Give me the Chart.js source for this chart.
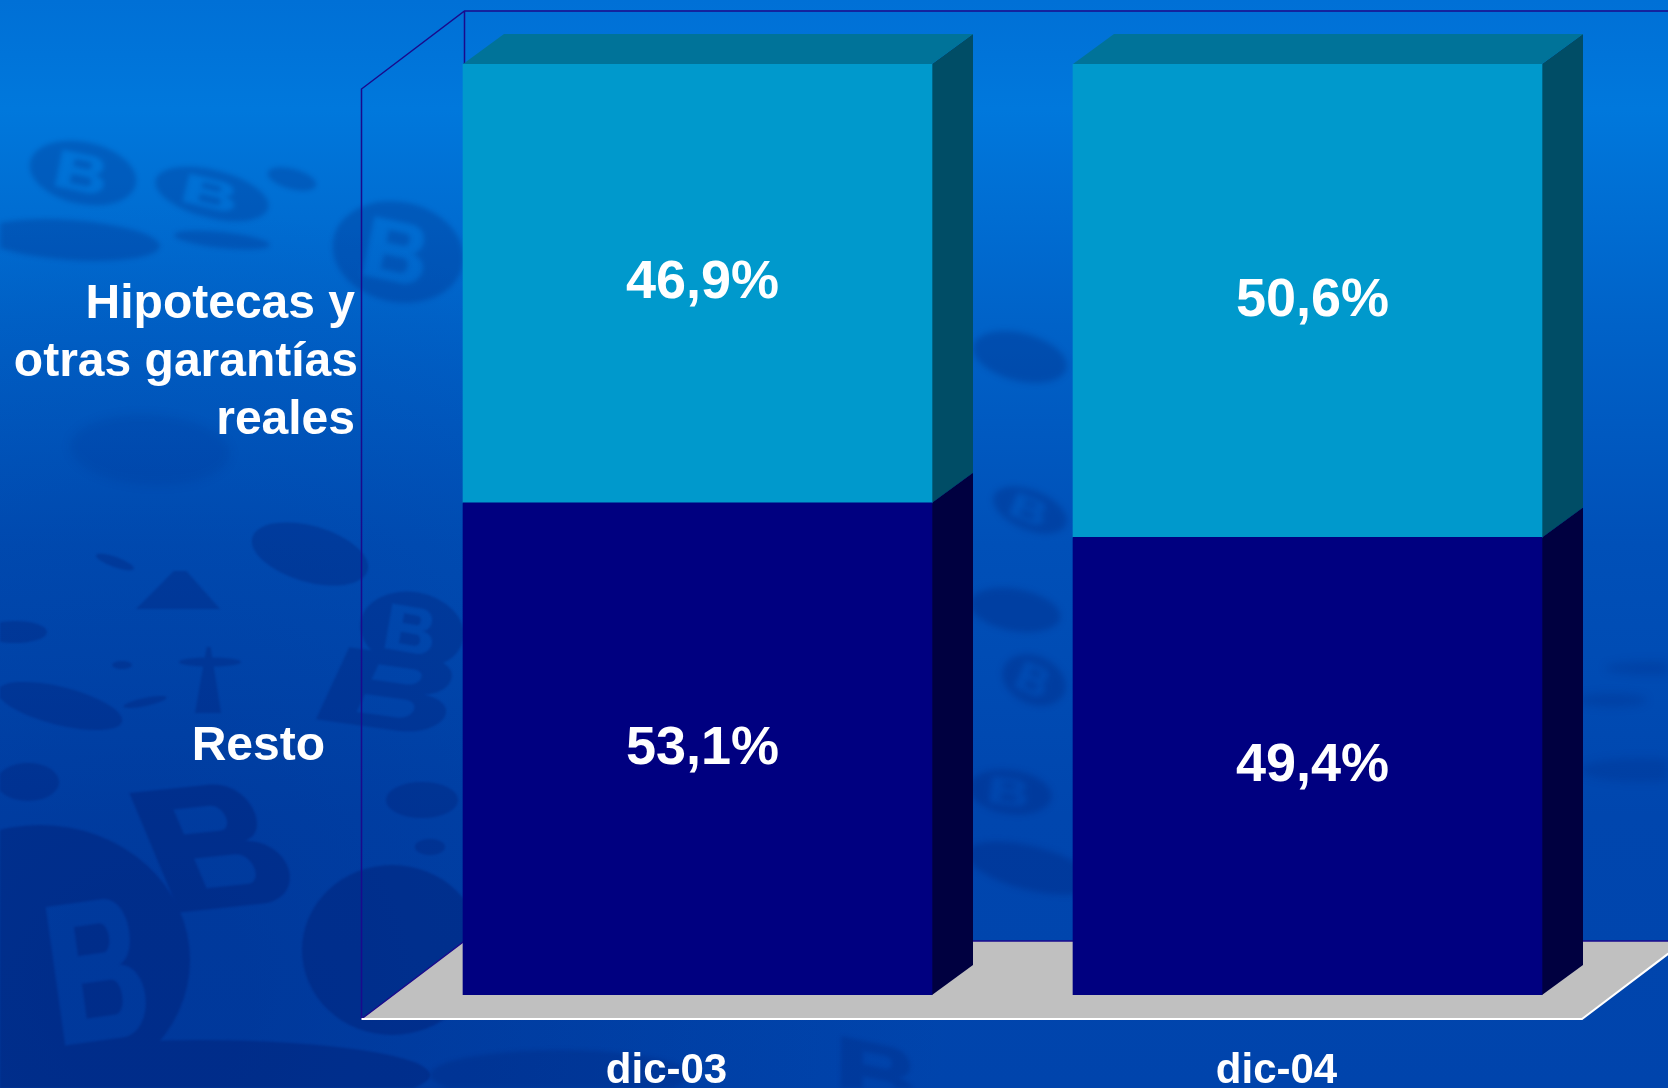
<!DOCTYPE html>
<html lang="es">
<head>
<meta charset="utf-8">
<title>Hipotecas y otras garantías reales</title>
<style>
  html, body { margin: 0; padding: 0; background: #0050b8; }
  canvas { display: block; }
</style>
<script src="https://cdn.jsdelivr.net/npm/chart.js@4"></script>
</head>
<body>
<canvas id="chart" width="1668" height="1088"></canvas>
<script>
// Chart values
const categories = ['dic-03', 'dic-04'];
const restoValues = [53.1, 49.4];
const hipotecasValues = [46.9, 50.6];
const restoLabel = ['Resto'];
const hipotecasLabel = ['Hipotecas y', 'otras garantías', 'reales'];

// Face colours of each stacked block: front, side, top
const restoFaces = ['#000080', '#000040', '#000060'];
const hipotecasFaces = ['#0099cc', '#004d66', '#007399'];

const FONT = '"Liberation Sans", Arial, sans-serif';
const BAR_DEPTH = { x: 41, y: 30 };
const WALL_DEPTH = { x: 103, y: 78 };

// Soft corporate monogram pattern behind the plot
function bGlyph(ctx, w, h) {
  // Outer letter contour, centred on the origin
  const x0 = -w / 2, y0 = -h / 2;
  ctx.moveTo(x0, y0);
  ctx.lineTo(x0 + w * 0.62, y0);
  ctx.bezierCurveTo(x0 + w * 0.95, y0, x0 + w * 0.95, y0 + h * 0.44, x0 + w * 0.72, y0 + h * 0.48);
  ctx.bezierCurveTo(x0 + w * 1.08, y0 + h * 0.52, x0 + w * 1.02, y0 + h, x0 + w * 0.64, y0 + h);
  ctx.lineTo(x0, y0 + h);
  ctx.closePath();
  // Counters
  ctx.moveTo(x0 + w * 0.28, y0 + h * 0.17);
  ctx.lineTo(x0 + w * 0.56, y0 + h * 0.17);
  ctx.bezierCurveTo(x0 + w * 0.68, y0 + h * 0.17, x0 + w * 0.68, y0 + h * 0.38, x0 + w * 0.56, y0 + h * 0.38);
  ctx.lineTo(x0 + w * 0.28, y0 + h * 0.38);
  ctx.closePath();
  ctx.moveTo(x0 + w * 0.28, y0 + h * 0.58);
  ctx.lineTo(x0 + w * 0.6, y0 + h * 0.58);
  ctx.bezierCurveTo(x0 + w * 0.74, y0 + h * 0.58, x0 + w * 0.74, y0 + h * 0.83, x0 + w * 0.6, y0 + h * 0.83);
  ctx.lineTo(x0 + w * 0.28, y0 + h * 0.83);
  ctx.closePath();
}

function shape(ctx, [kind, cx, cy, w, h, deg, skew]) {
  ctx.save();
  ctx.translate(cx, cy);
  ctx.rotate(deg * Math.PI / 180);
  if (skew) ctx.transform(1, 0, skew, 1, 0, 0);
  ctx.beginPath();
  if (kind === 'ellipse' || kind === 'coin' || kind === 'ground') {
    ctx.ellipse(0, 0, w / 2, h / 2, 0, 0, Math.PI * 2);
    ctx.closePath();
    if (kind === 'coin') {
      ctx.save();
      ctx.scale(0.46, 0.6);
      bGlyph(ctx, w, h);
      ctx.restore();
    } else if (kind === 'ground') {
      // Large pale letter cut out of the dark ground
      ctx.save();
      ctx.translate(60, 10);
      ctx.rotate(-8 * Math.PI / 180);
      bGlyph(ctx, 90, 140);
      ctx.restore();
    }
  } else if (kind === 'b') {
    bGlyph(ctx, w, h);
  } else if (kind === 'tri') {
    ctx.moveTo(-w / 2, h / 2);
    ctx.lineTo(-w * 0.05, -h / 2);
    ctx.lineTo(w * 0.1, -h / 2);
    ctx.lineTo(w / 2, h / 2);
    ctx.closePath();
  }
  ctx.fill('evenodd');
  ctx.restore();
}

// Paints a set of shapes as one flat silhouette, so overlaps keep a single tone
function layer(ctx, w, h, alpha, blur, shapes) {
  const off = document.createElement('canvas');
  off.width = w;
  off.height = h;
  const c = off.getContext('2d');
  c.fillStyle = 'rgb(0,28,112)';
  shapes.forEach(s => shape(c, s));
  ctx.save();
  ctx.globalAlpha = alpha;
  ctx.filter = 'blur(' + blur + 'px)';
  ctx.drawImage(off, 0, 0);
  ctx.restore();
}

const backdrop = {
  id: 'backdrop',
  beforeDraw(chart) {
    const { ctx, width, height } = chart;
    const grad = ctx.createLinearGradient(0, 0, 0, height);
    grad.addColorStop(0, '#0070d6');
    grad.addColorStop(0.1, '#0078dc');
    grad.addColorStop(0.3, '#0062c8');
    grad.addColorStop(0.5, '#0050b8');
    grad.addColorStop(0.75, '#0046ae');
    grad.addColorStop(1, '#0044ac');
    ctx.save();
    ctx.fillStyle = grad;
    ctx.fillRect(0, 0, width, height);

    // Gentle darkening towards the lower left corner
    const corner = ctx.createRadialGradient(150, 1000, 100, 150, 1000, 800);
    corner.addColorStop(0, 'rgba(0,32,120,0.32)');
    corner.addColorStop(1, 'rgba(0,32,120,0)');
    ctx.fillStyle = corner;
    ctx.fillRect(0, 0, width, height);

    // Upper left group
    layer(ctx, width, height, 0.24, 2.5, [
      ['coin', 83, 173, 108, 62, 12],
      ['coin', 212, 194, 116, 48, 14],
      ['ellipse', 292, 179, 50, 20, 15],
      ['ellipse', 222, 240, 96, 16, 6],
      ['ellipse', 70, 240, 180, 40, 4],
      ['coin', 398, 252, 132, 100, 12]
    ]);
    layer(ctx, width, height, 0.1, 5, [['ellipse', 150, 450, 160, 70, 3]]);

    // Middle left group
    layer(ctx, width, height, 0.3, 1.2, [
      ['ellipse', 310, 554, 120, 56, 16],
      ['tri', 178, 590, 84, 38, 0],
      ['ellipse', 115, 562, 40, 10, 20],
      ['ellipse', 15, 632, 64, 22, 0],
      ['ellipse', 60, 706, 128, 38, 14],
      ['ellipse', 28, 782, 62, 38, 0],
      ['ellipse', 145, 702, 44, 8, -12],
      ['ellipse', 122, 665, 20, 8, 0],
      ['tri', 208, 680, 26, 66, 0],
      ['ellipse', 210, 662, 62, 9, 0],
      ['coin', 412, 630, 104, 76, 10],
      ['b', 395, 692, 126, 76, 8, -0.3],
      ['ellipse', 422, 800, 72, 36, 0],
      ['ellipse', 430, 847, 30, 16, 0]
    ]);

    // Lower left group
    layer(ctx, width, height, 0.38, 1, [
      ['b', 218, 846, 128, 124, -6, 0.3],
      ['ground', 40, 960, 300, 270, 0],
      ['ellipse', 392, 950, 180, 170, 0],
      ['ellipse', 200, 1075, 460, 70, 0]
    ]);
    layer(ctx, width, height, 0.22, 2, [
      ['ellipse', 560, 1075, 260, 50, 0],
      ['b', 880, 1075, 80, 60, 12, 0.2]
    ]);

    // Gap between the two columns
    layer(ctx, width, height, 0.27, 3, [
      ['ellipse', 1020, 357, 96, 48, 14],
      ['coin', 1030, 510, 78, 40, 22],
      ['ellipse', 1015, 610, 92, 42, 10],
      ['coin', 1034, 680, 66, 48, 24],
      ['coin', 1010, 792, 84, 44, 8],
      ['ellipse', 1030, 868, 130, 44, 14]
    ]);

    // Right margin streaks
    layer(ctx, width, height, 0.18, 4, [
      ['ellipse', 1650, 668, 90, 14, 0],
      ['ellipse', 1612, 700, 70, 14, 0],
      ['ellipse', 1640, 770, 120, 24, 0]
    ]);
    ctx.restore();
  }
};

// Back wall, side wall and floor of the chart box
const chartBox = {
  id: 'chartBox',
  beforeDatasetsDraw(chart) {
    const { ctx, width, chartArea: a } = chart;
    const frontLeft = a.left - 31;
    const frontBottom = a.bottom + 24;
    const backLeft = frontLeft + WALL_DEPTH.x;
    const backBottom = frontBottom - WALL_DEPTH.y;
    const frontRight = 1582;
    const backTop = 11;
    ctx.save();
    ctx.fillStyle = '#c0c0c0';
    ctx.beginPath();
    ctx.moveTo(frontLeft, frontBottom);
    ctx.lineTo(backLeft, backBottom);
    ctx.lineTo(frontRight + WALL_DEPTH.x, backBottom);
    ctx.lineTo(frontRight, frontBottom);
    ctx.closePath();
    ctx.fill();

    ctx.lineWidth = 1.5;
    ctx.strokeStyle = '#1a0a8c';
    ctx.beginPath();
    ctx.moveTo(frontLeft, frontBottom);
    ctx.lineTo(frontLeft, backTop + WALL_DEPTH.y);
    ctx.lineTo(backLeft, backTop);
    ctx.lineTo(width, backTop);
    ctx.moveTo(backLeft, backTop);
    ctx.lineTo(backLeft, backBottom);
    ctx.lineTo(frontLeft, frontBottom);
    ctx.moveTo(backLeft, backBottom);
    ctx.lineTo(width, backBottom);
    ctx.stroke();

    ctx.lineWidth = 2;
    ctx.strokeStyle = '#ffffff';
    ctx.beginPath();
    ctx.moveTo(frontLeft, frontBottom);
    ctx.lineTo(frontRight, frontBottom);
    ctx.lineTo(frontRight + WALL_DEPTH.x, backBottom);
    ctx.stroke();
    ctx.restore();
  }
};

// Side and top faces for every stacked block, taken from the bar elements
const extrude = {
  id: 'extrude',
  beforeDatasetsDraw(chart) {
    const { ctx, chartArea: a } = chart;
    ctx.save();
    chart.data.datasets.forEach((ds, i) => {
      const meta = chart.getDatasetMeta(i);
      meta.data.forEach(bar => {
        const p = bar.getProps(['x', 'y', 'base', 'width'], true);
        const right = p.x + p.width / 2;
        const left = p.x - p.width / 2;
        const top = p.y;
        const bottom = Math.min(p.base, a.bottom);
        ctx.fillStyle = ds.faces[1];
        ctx.beginPath();
        ctx.moveTo(right, top);
        ctx.lineTo(right + BAR_DEPTH.x, top - BAR_DEPTH.y);
        ctx.lineTo(right + BAR_DEPTH.x, bottom - BAR_DEPTH.y);
        ctx.lineTo(right, bottom);
        ctx.closePath();
        ctx.fill();
        ctx.fillStyle = ds.faces[2];
        ctx.beginPath();
        ctx.moveTo(left, top);
        ctx.lineTo(left + BAR_DEPTH.x, top - BAR_DEPTH.y);
        ctx.lineTo(right + BAR_DEPTH.x, top - BAR_DEPTH.y);
        ctx.lineTo(right, top);
        ctx.closePath();
        ctx.fill();
      });
    });
    ctx.restore();
  }
};

// Percent labels inside the blocks and the series names at the left
const annotations = {
  id: 'annotations',
  afterDraw(chart) {
    const { ctx, chartArea: a } = chart;
    ctx.save();
    ctx.fillStyle = '#ffffff';
    ctx.textBaseline = 'middle';

    ctx.textAlign = 'center';
    ctx.font = 'bold 54px ' + FONT;
    chart.data.datasets.forEach((ds, i) => {
      chart.getDatasetMeta(i).data.forEach((bar, j) => {
        const p = bar.getProps(['x', 'y', 'base'], true);
        const mid = (p.y + Math.min(p.base, a.bottom)) / 2;
        const text = ds.data[j].toFixed(1).replace('.', ',') + '%';
        ctx.fillText(text, p.x + 5, mid);
      });
    });

    ctx.textAlign = 'right';
    ctx.font = 'bold 48px ' + FONT;
    ctx.fillText(hipotecasLabel[0], 355, 305);
    ctx.fillText(hipotecasLabel[1], 358, 363);
    ctx.fillText(hipotecasLabel[2], 355, 421);
    ctx.fillText(restoLabel[0], 325, 747);
    ctx.restore();
  }
};

new Chart(document.getElementById('chart'), {
  type: 'bar',
  data: {
    labels: categories,
    datasets: [
      { label: restoLabel.join(' '), data: restoValues, backgroundColor: restoFaces[0], faces: restoFaces, borderWidth: 0 },
      { label: hipotecasLabel.join(' '), data: hipotecasValues, backgroundColor: hipotecasFaces[0], faces: hipotecasFaces, borderWidth: 0 }
    ]
  },
  plugins: [backdrop, chartBox, extrude, annotations],
  options: {
    responsive: false,
    animation: false,
    events: [],
    layout: { padding: { left: 392.5, right: 55.5, top: 64, bottom: 0 } },
    datasets: { bar: { barThickness: 469 } },
    plugins: { legend: { display: false }, tooltip: { enabled: false }, title: { display: false } },
    scales: {
      x: {
        stacked: true,
        grid: { display: false, drawTicks: false },
        border: { display: false },
        afterFit(scale) { scale.height = 93; },
        ticks: {
          color: '#ffffff',
          font: { family: FONT, weight: 'bold', size: 42 },
          padding: 51,
          labelOffset: -31,
          autoSkip: false,
          maxRotation: 0
        }
      },
      y: {
        display: false,
        stacked: true,
        min: 0.5,
        max: 100
      }
    }
  }
});
</script>
</body>
</html>
